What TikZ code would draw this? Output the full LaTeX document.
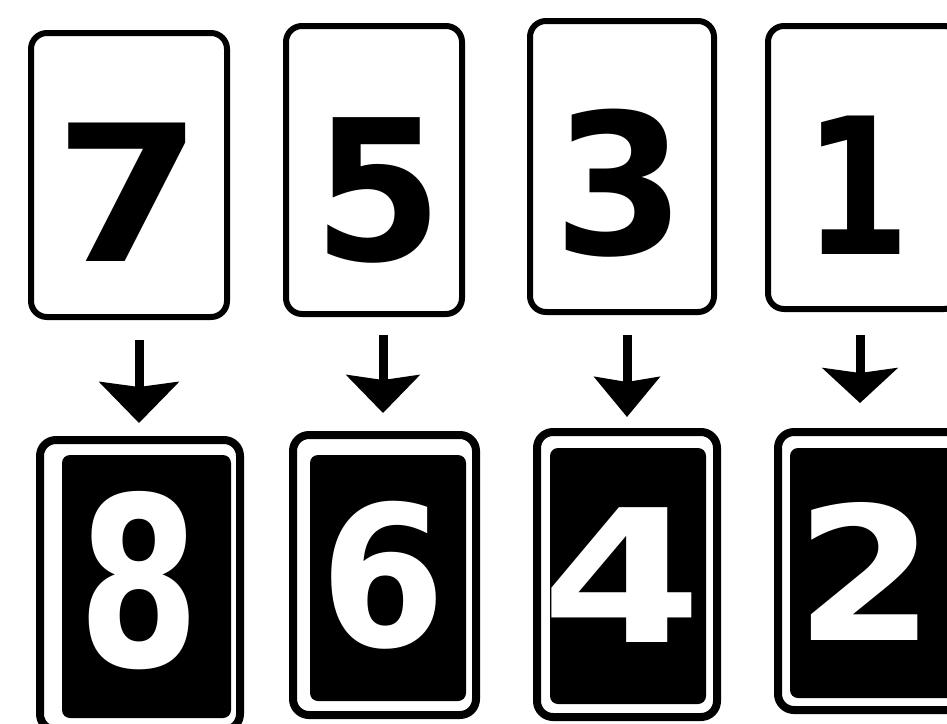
\documentclass[tikz,border=0pt]{standalone}
\usepackage{fontspec}
\usepackage{graphicx}
\setmainfont{DejaVu Sans}
\usetikzlibrary{arrows.meta}
\tikzset{
  topcard/.style={draw=black, line width=6pt, rounded corners=16pt, inner sep=0pt},
  botcard/.style={draw=black, line width=8pt, rounded corners=16pt, inner sep=0pt},
  blackpanel/.style={fill=black, rounded corners=8pt, inner sep=0pt},
  topdigit/.style={inner sep=0pt, text=black, font=\bfseries},
  botdigit/.style={inner sep=0pt, text=white, font=\bfseries},
  downarr/.style 2 args={line width=9pt, -{Stealth[length=#1, width=#2, inset=5pt]}}
}
\newcommand\dsize[1]{\fontsize{#1}{#1}\selectfont}
\begin{document}
\begin{tikzpicture}[x=1pt,y=-1pt]
\useasboundingbox (0,0) rectangle (947,723);
\fill[white] (0,0) rectangle (947,723);
\clip (0,0) rectangle (947,723);
% top cards
\node[topcard, minimum width=196pt, minimum height=284pt] (t1) at (129,175) {};
\node[topcard, minimum width=176pt, minimum height=288pt] (t2) at (374,170) {};
\node[topcard, minimum width=184pt, minimum height=291pt] (t3) at (622,166.5) {};
\node[topcard, minimum width=192pt, minimum height=283pt] (t4) at (864,167.5) {};
\node[topdigit] (d1) at (129,192) {\dsize{190}\scalebox{1.12}[1]{7}};
\node[topdigit] (d2) at (378,190) {\dsize{196}\scalebox{0.95}[1]{5}};
\node[topdigit] (d3) at (620,183) {\dsize{196}\scalebox{0.97}[1]{3}};
\node[topdigit] (d4) at (857,185) {\dsize{190}\scalebox{0.8}[1]{1}};
% bottom cards
\node[botcard, minimum width=200pt, minimum height=290pt] (b1) at (140,585) {};
\node[botcard, minimum width=183pt, minimum height=280pt] (b2) at (384.5,575) {};
\node[botcard, minimum width=180pt, minimum height=285pt] (b3) at (627,574.5) {};
\node[botcard, minimum width=197pt, minimum height=278pt] (b4) at (876.5,571) {};
\node[blackpanel, minimum width=169pt, minimum height=263pt] (p1) at (146.5,586.5) {};
\node[blackpanel, minimum width=156pt, minimum height=246pt] (p2) at (388,578) {};
\node[blackpanel, minimum width=156pt, minimum height=256pt] (p3) at (628,576) {};
\node[blackpanel, minimum width=175pt, minimum height=250pt] (p4) at (877.5,573) {};
\node[botdigit] (e1) at (139,581) {\dsize{236}\scalebox{0.74}[1]{8}};
\node[botdigit] (e2) at (383,575) {\dsize{196}\scalebox{0.92}[1]{6}};
\node[botdigit] (e3) at (622,575) {\dsize{185}\scalebox{1.25}[1]{4}};
\node[botdigit] (e4) at (865,571) {\dsize{186}\scalebox{1.08}[1]{2}};
% arrows
\coordinate (a1s) at (139,340); \coordinate (a1e) at (139,423);
\coordinate (a2s) at (383,335); \coordinate (a2e) at (383,413);
\coordinate (a3s) at (627,335); \coordinate (a3e) at (627,417);
\coordinate (a4s) at (860,335); \coordinate (a4e) at (860,403);
\draw[downarr={41pt}{79pt}] (a1s) -- (a1e);
\draw[downarr={38pt}{73pt}] (a2s) -- (a2e);
\draw[downarr={40pt}{65pt}] (a3s) -- (a3e);
\draw[downarr={35pt}{75pt}] (a4s) -- (a4e);
\end{tikzpicture}
\end{document}
